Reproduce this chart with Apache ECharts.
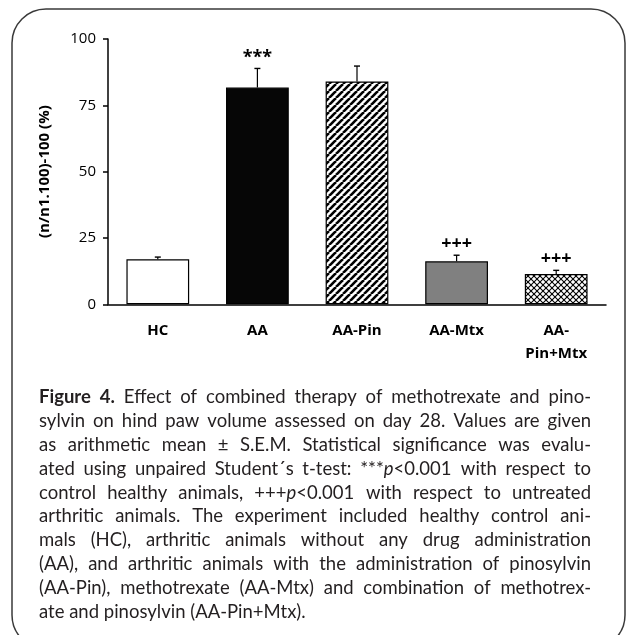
<!DOCTYPE html>
<html><head><meta charset="utf-8">
<script src="https://cdn.jsdelivr.net/npm/echarts@6/dist/echarts.min.js"></script>
<style>html,body{margin:0;padding:0;background:#fff}#c{width:628px;height:635px}</style>
</head><body><div id="c"></div>
<script>
// ---- data ----
const categories = ['HC', 'AA', 'AA-Pin', 'AA-Mtx', 'AA-\nPin+Mtx'];
const means = [17.0, 81.7, 84.0, 16.2, 11.4];
const sems = [0.8, 7.2, 5.8, 2.3, 1.4];
const marks = ['', '***', '', '+++', '+++'];
const yTicks = [0, 25, 50, 75, 100];
const yAxisTitle = '(n/n1.100)-100 (%)';
const captionBold = 'Figure 4.';
const captionLines = [
  'Figure 4. Effect of combined therapy of methotrexate and pino-',
  'sylvin on hind paw volume assessed on day 28. Values are given',
  'as arithmetic mean \u00b1 S.E.M. Statistical significance was evalu-',
  'ated using unpaired Student\u00b4s t-test: ***p<0.001 with respect to',
  'control healthy animals, +++p<0.001 with respect to untreated',
  'arthritic animals. The experiment included healthy control ani-',
  'mals (HC), arthritic animals without any drug administration',
  '(AA), and arthritic animals with the administration of pinosylvin',
  '(AA-Pin), methotrexate (AA-Mtx) and combination of methotrex-',
  'ate and pinosylvin (AA-Pin+Mtx).'
];

// ---- patterns ----
function stripePattern() {
  const s = 7, c = document.createElement('canvas'); c.width = c.height = s;
  const g = c.getContext('2d');
  g.fillStyle = '#fff'; g.fillRect(0, 0, s, s);
  g.strokeStyle = '#000'; g.lineWidth = 2.6;
  for (const o of [-s, 0, s]) { g.beginPath(); g.moveTo(o, s); g.lineTo(o + s, 0); g.stroke(); }
  return c;
}
function crossPattern() {
  const s = 6, c = document.createElement('canvas'); c.width = c.height = s;
  const g = c.getContext('2d');
  g.fillStyle = '#fff'; g.fillRect(0, 0, s, s);
  g.strokeStyle = '#000'; g.lineWidth = 1.1;
  for (const o of [-s, 0, s]) {
    g.beginPath(); g.moveTo(o, s); g.lineTo(o + s, 0); g.stroke();
    g.beginPath(); g.moveTo(o, 0); g.lineTo(o + s, s); g.stroke();
  }
  return c;
}
const fills = [
  '#ffffff', '#060606',
  { image: stripePattern(), repeat: 'repeat' },
  '#808080',
  { image: crossPattern(), repeat: 'repeat' }
];

// ---- caption layout (justified) ----
const capX0 = 39, capX1 = 591, capY0 = 397.5, capLH = 23.8;
const capFamily = 'Lato';
const mctx = document.createElement('canvas').getContext('2d');
function measure(t, size, bold) { mctx.font = (bold ? 'bold ' : '') + size + 'px ' + capFamily; return mctx.measureText(t).width; }
let capSize = 18.5;
captionLines.forEach((ln, i) => {
  const w = measure(ln, capSize, false) + (i === 0 ? 10 : 0);
  if (w > (capX1 - capX0)) capSize = Math.min(capSize, capSize * (capX1 - capX0) / w);
});
const capGraphics = [];
captionLines.forEach((ln, i) => {
  const words = ln.split(' ');
  const boldCount = i === 0 ? captionBold.split(' ').length : 0;
  const widths = words.map((w, k) => measure(w, capSize, k < boldCount));
  const total = widths.reduce((a, b) => a + b, 0);
  const last = i === captionLines.length - 1;
  const gap = last ? measure(' ', capSize, false) : (capX1 - capX0 - total) / (words.length - 1);
  let x = capX0;
  const y = capY0 + i * capLH;
  words.forEach((w, k) => {
    const hasP = /p</.test(w);
    const txt = hasP ? w.replace('p<', '{i|p}<') : w;
    capGraphics.push({
      type: 'text', x: x, y: y, silent: true,
      style: { text: txt, fill: '#231f20', align: 'left', verticalAlign: 'middle',
        font: (k < boldCount ? 'bold ' : '') + capSize + 'px ' + capFamily,
        rich: { i: { fontStyle: 'italic', fontFamily: capFamily, fontSize: capSize, fill: '#231f20' } } }
    });
    x += widths[k] + gap;
  });
});

const chart = echarts.init(document.getElementById('c'), null, { renderer: 'canvas' });
chart.setOption({
  animation: false,
  backgroundColor: '#fff',
  grid: { left: 108, right: 22, top: 39, bottom: 330.7, containLabel: false },
  xAxis: {
    type: 'category', data: categories,
    axisLine: { lineStyle: { color: '#000', width: 1.5 } },
    axisTick: { show: false },
    axisLabel: { color: '#000', fontFamily: 'Open Sans', fontWeight: 'bold', fontSize: 15, lineHeight: 23, margin: 15, interval: 0 }
  },
  yAxis: {
    type: 'value', min: yTicks[0], max: yTicks[yTicks.length - 1], interval: 25,
    name: yAxisTitle, nameLocation: 'middle', nameGap: 56, nameRotate: 90,
    nameTextStyle: { color: '#000', fontFamily: 'Open Sans', fontWeight: 'bold', fontSize: 15 },
    axisLine: { show: true, lineStyle: { color: '#000', width: 1.5 } },
    axisTick: { show: true, length: 5, lineStyle: { color: '#000', width: 1.5 } },
    axisLabel: { color: '#000', fontFamily: 'Open Sans', fontSize: 15, margin: 12 },
    splitLine: { show: false }
  },
  series: [
    {
      type: 'bar', barWidth: '63%',
      data: means.map((v, i) => ({ value: v, itemStyle: { color: fills[i] } })),
      itemStyle: { borderColor: '#000', borderWidth: 1.2 },
      z: 2
    },
    {
      type: 'custom', z: 5,
      data: means.map((v, i) => [i, v, sems[i]]),
      renderItem: function (params, api) {
        const i = api.value(0), m = api.value(1), e = api.value(2);
        const base = api.coord([i, m]);
        const top = api.coord([i, m + e]);
        const idx = params.dataIndex;
        return {
          type: 'group',
          children: [
            { type: 'line', shape: { x1: top[0], y1: base[1], x2: top[0], y2: top[1] }, style: { stroke: '#000', lineWidth: 1.2 } },
            { type: 'line', shape: { x1: top[0] - 3, y1: top[1], x2: top[0] + 3, y2: top[1] }, style: { stroke: '#000', lineWidth: 1.4 } },
            { type: 'text', style: { text: marks[idx], x: top[0], y: top[1] - 11, align: 'center', verticalAlign: 'middle',
                fill: '#000', font: 'bold 18px "Open Sans"' } }
          ]
        };
      }
    }
  ],
  graphic: [
    { type: 'rect', z: -1, silent: true, shape: { x: 12, y: 9, width: 613, height: 640, r: 34 },
      style: { fill: 'none', stroke: '#3a3a3a', lineWidth: 1.5 } }
  ].concat(capGraphics)
});
</script></body></html>
